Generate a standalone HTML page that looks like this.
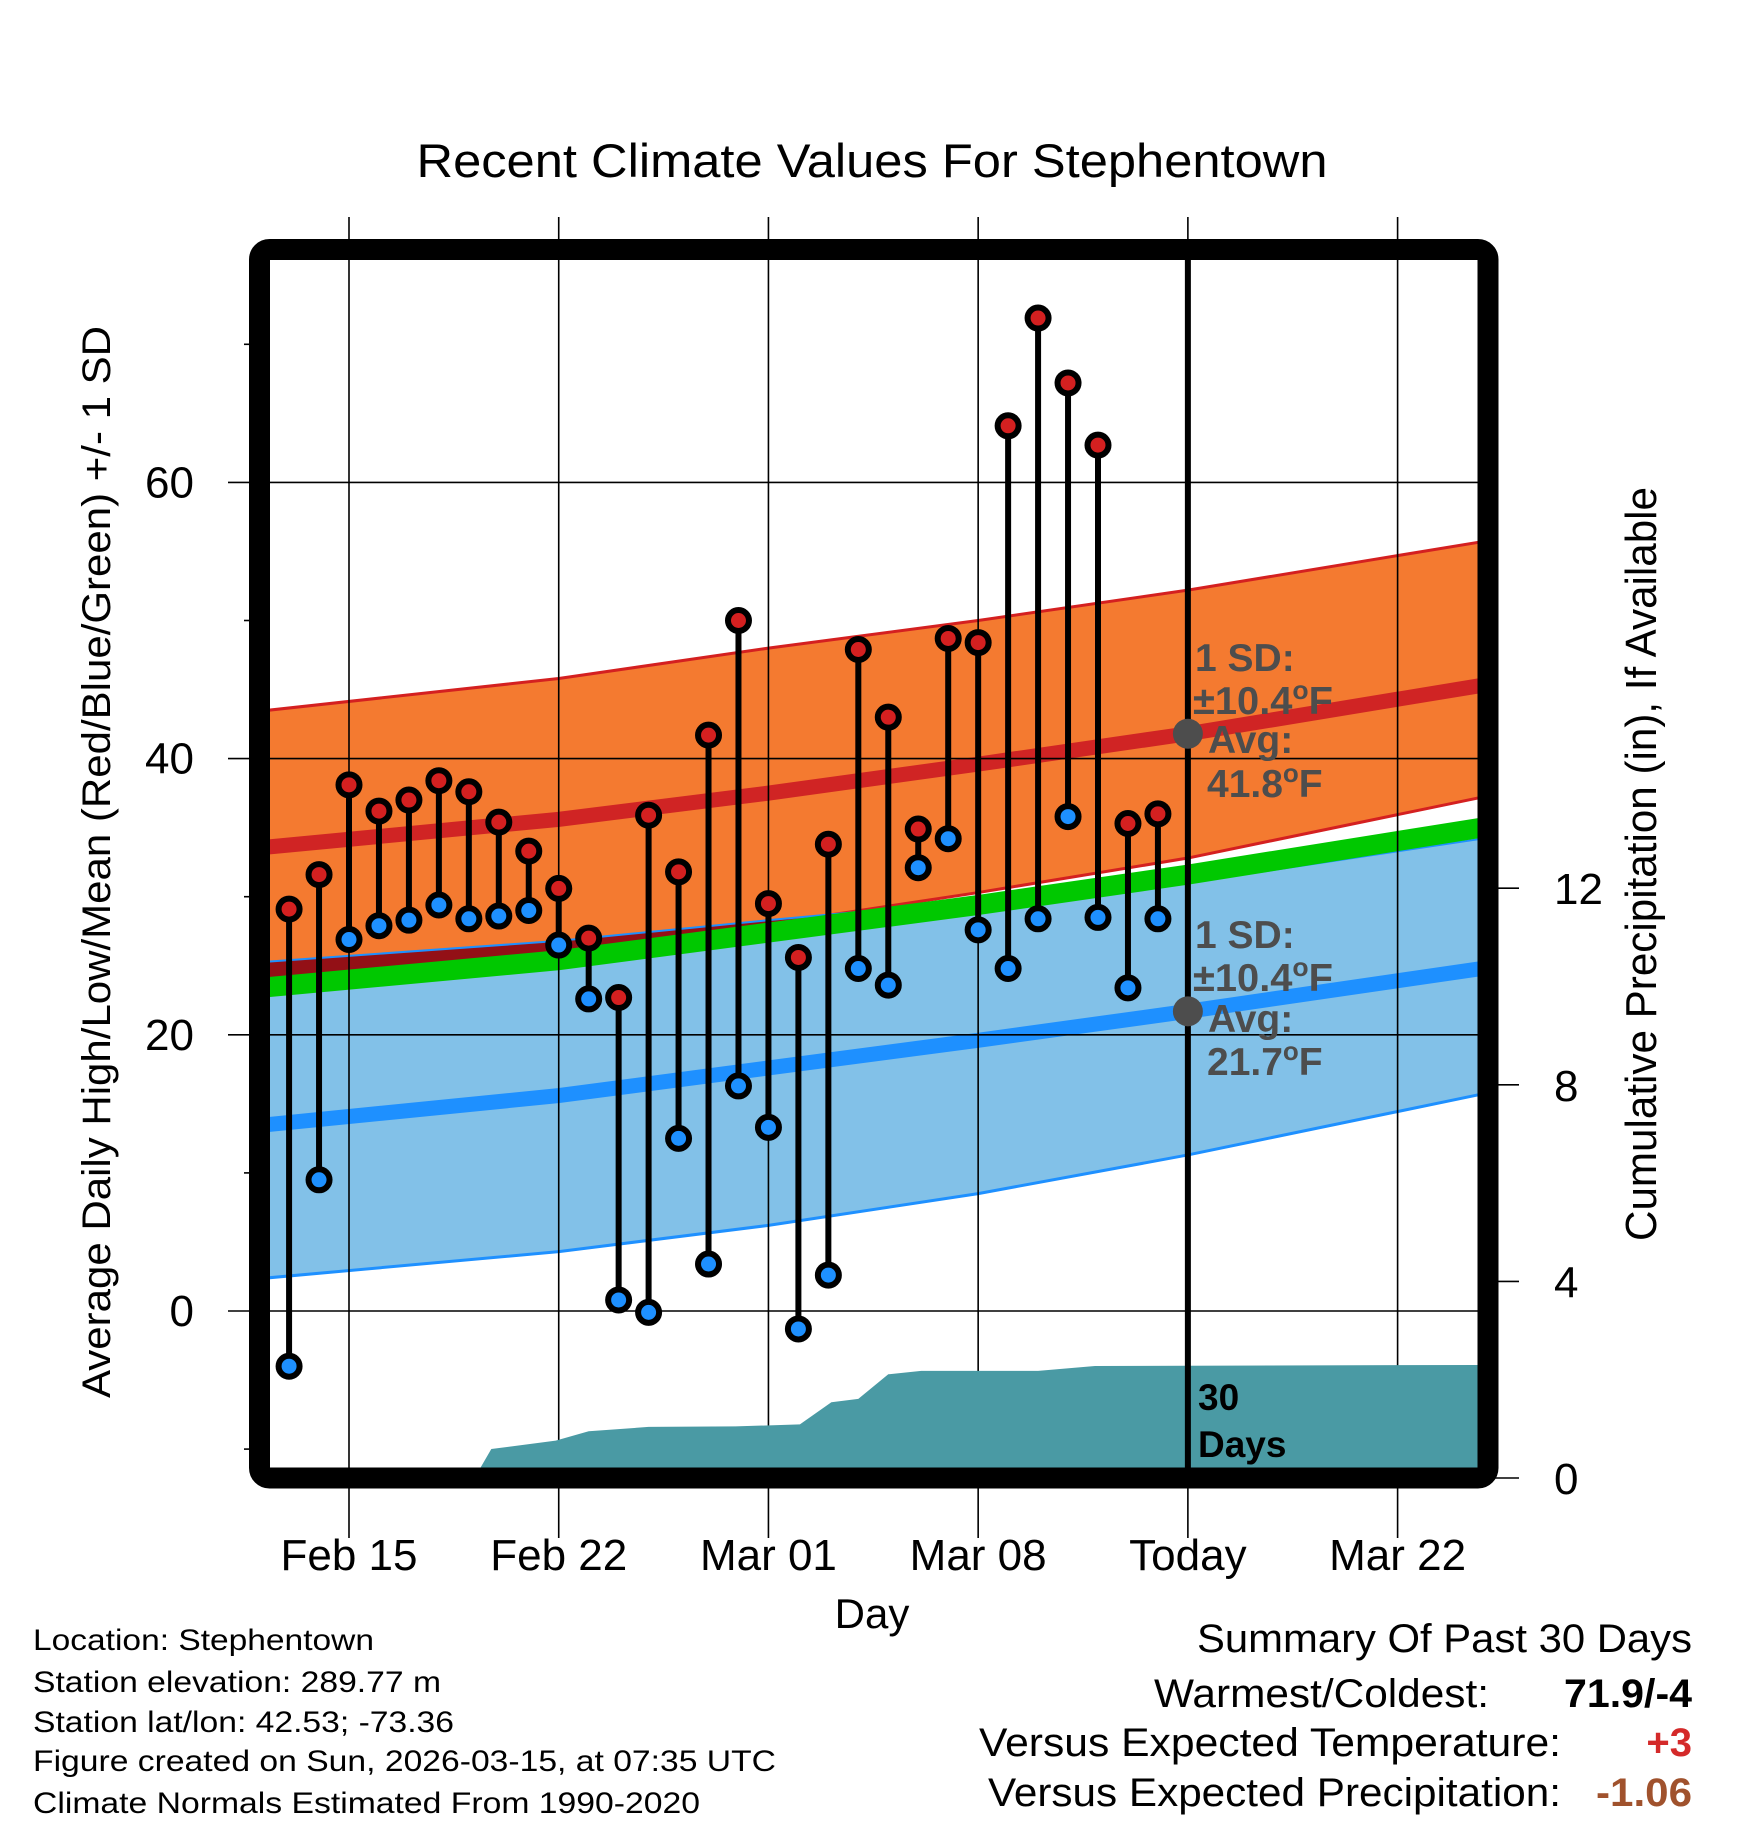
<!DOCTYPE html>
<html><head><meta charset="utf-8"><style>
html,body{margin:0;padding:0;background:#fff;}
svg{display:block;font-family:"Liberation Sans",Arial,sans-serif;}
</style></head><body>
<svg id="chart" width="1748" height="1828" viewBox="0 0 1748 1828" xmlns="http://www.w3.org/2000/svg">
<defs><clipPath id="plotclip"><rect x="270" y="260" width="1208" height="1208"/></clipPath></defs>
<text x="872" y="177" font-size="47" text-anchor="middle" textLength="911" lengthAdjust="spacingAndGlyphs">Recent Climate Values For Stephentown</text>
<g id="bands" clip-path="url(#plotclip)"></g>
<g id="grid"></g>
<g id="precip" clip-path="url(#plotclip)"></g>
<g id="annot"></g>
<g id="marks"></g>
<rect x="259.5" y="249.5" width="1228.5" height="1228.5" rx="10" fill="none" stroke="#000" stroke-width="21"/>
<g id="axes"></g>
<text transform="translate(110,862) rotate(-90)" font-size="40" text-anchor="middle" textLength="1072" lengthAdjust="spacingAndGlyphs">Average Daily High/Low/Mean (Red/Blue/Green) +/- 1 SD</text>
<text transform="translate(1656,864) rotate(-90)" font-size="44" text-anchor="middle" textLength="754" lengthAdjust="spacingAndGlyphs">Cumulative Precipitation (in), If Available</text>
<text x="872" y="1628" font-size="42" text-anchor="middle">Day</text>
<g font-size="30">
<text x="33" y="1650" textLength="341" lengthAdjust="spacingAndGlyphs">Location: Stephentown</text>
<text x="33" y="1692" textLength="408" lengthAdjust="spacingAndGlyphs">Station elevation: 289.77 m</text>
<text x="33" y="1732" textLength="421" lengthAdjust="spacingAndGlyphs">Station lat/lon: 42.53; -73.36</text>
<text x="33" y="1771" textLength="743" lengthAdjust="spacingAndGlyphs">Figure created on Sun, 2026-03-15, at 07:35 UTC</text>
<text x="33" y="1813" textLength="667" lengthAdjust="spacingAndGlyphs">Climate Normals Estimated From 1990-2020</text>
</g>
<g font-size="40">
<text x="1692" y="1652" text-anchor="end" textLength="495" lengthAdjust="spacingAndGlyphs">Summary Of Past 30 Days</text>
<text x="1154" y="1707" textLength="335" lengthAdjust="spacingAndGlyphs">Warmest/Coldest:</text>
<text x="1692" y="1707" text-anchor="end" font-weight="bold" textLength="128" lengthAdjust="spacingAndGlyphs">71.9/-4</text>
<text x="979" y="1756" textLength="582" lengthAdjust="spacingAndGlyphs">Versus Expected Temperature:</text>
<text x="1692" y="1756" text-anchor="end" font-weight="bold" fill="#d42a2a">+3</text>
<text x="988" y="1806" textLength="573" lengthAdjust="spacingAndGlyphs">Versus Expected Precipitation:</text>
<text x="1692" y="1806" text-anchor="end" font-weight="bold" fill="#a0522d" textLength="96" lengthAdjust="spacingAndGlyphs">-1.06</text>
</g>
</svg>
<script>
// ---- data ----
const dayOffsets = [-2,-1,0,1,2,3,4,5,6,7,8,9,10,11,12,13,14,15,16,17,18,19,20,21,22,23,24,25,26,27];
const highs = [29.1,31.6,38.1,36.2,37.0,38.4,37.6,35.4,33.3,30.6,27.0,22.7,35.9,31.8,41.7,50.0,29.5,25.6,33.8,47.9,43.0,34.9,48.7,48.4,64.1,71.9,67.2,62.7,35.3,36.0];
const lows = [-4.0,9.5,26.9,27.9,28.3,29.4,28.4,28.6,29.0,26.5,22.6,0.8,-0.1,12.5,3.4,16.3,13.3,-1.3,2.6,24.8,23.6,32.1,34.2,27.6,24.8,28.4,35.8,28.5,23.4,28.4];
const normDays = [-2.7,7,14,21,28,37.8];
const avgHigh = [33.6,35.6,37.5,39.6,41.8,45.3];
const highUpper = [43.5,45.8,48.0,50.0,52.2,55.7];
const highLower = [23.2,25.6,28.0,30.3,32.8,37.2];
const lowUpper = [25.3,26.8,28.3,29.7,31.0,34.2];
const avgLow = [13.5,15.6,17.6,19.6,21.7,24.8];
const lowLower = [2.4,4.3,6.2,8.5,11.3,15.7];
const avgMean = [23.45,25.4,27.4,29.4,31.6,35.0];
const precipDays = [4.0,4.75,6.9,8.0,10.0,12.9,15.05,16.1,17.0,18.0,19.1,23.0,24.9,37.8];
const precipVals = [-0.2,0.59,0.76,0.95,1.04,1.05,1.09,1.54,1.61,2.11,2.18,2.18,2.28,2.30];
const xTickLabels = ["Feb 15","Feb 22","Mar 01","Mar 08","Today","Mar 22"];
const xTickDays = [0,7,14,21,28,35];
const yTicks = [0,20,40,60];
const yMinor = [-10,10,30,50,70];
const y2Ticks = [0,4,8,12];
const todayDay = 28;
const sdText = "±10.4";
const highAvgText = "41.8";
const lowAvgText = "21.7";

// ---- scales ----
const x = d => 349 + 29.96*d;
const yT = t => 1311 - 13.81*t;
const yP = p => 1478 - 49.15*p;
const NS = "http://www.w3.org/2000/svg";
function mk(tag, attrs, parent){const e=document.createElementNS(NS,tag);for(const k in attrs)e.setAttribute(k,attrs[k]);parent.appendChild(e);return e;}
const line = arr => normDays.map((d,i)=>x(d)+","+yT(arr[i])).join(" ");
const band = (a,b) => normDays.map((d,i)=>x(d)+","+yT(a[i])).concat(normDays.map((d,i)=>x(d)+","+yT(b[i])).reverse()).join(" ");

const bands=document.getElementById('bands');
let e;
e=mk('polygon',{points:band(highUpper,highLower),fill:'#f47a30'},bands);


e=mk('polygon',{points:band(lowUpper,lowLower),fill:'#82c1e8'},bands);


const overlapLow = highLower.map((v,i)=>Math.min(v,lowUpper[i]));
e=mk('polygon',{points:band(lowUpper,overlapLow),fill:'#931016'},bands);


e=mk('polyline',{points:line(highUpper),fill:'none',stroke:'#d42020','stroke-width':3},bands);


e=mk('polyline',{points:line(highLower),fill:'none',stroke:'#d42020','stroke-width':3},bands);


e=mk('polyline',{points:line(lowUpper),fill:'none',stroke:'#1e90ff','stroke-width':2},bands);


e=mk('polyline',{points:line(lowLower),fill:'none',stroke:'#1e90ff','stroke-width':3},bands);


e=mk('polyline',{points:line(avgMean),fill:'none',stroke:'#00c800','stroke-width':20},bands);


e=mk('polyline',{points:line(avgHigh),fill:'none',stroke:'#d02424','stroke-width':15},bands);


e=mk('polyline',{points:line(avgLow),fill:'none',stroke:'#1e90ff','stroke-width':15},bands);



// grid
const grid=document.getElementById('grid');
xTickDays.forEach((d,i)=>{
  const g=mk('line',{x1:x(d),x2:x(d),y1:217,y2:1538,stroke:'#000','stroke-width':1.6},grid);
  
  
});
yTicks.forEach(t=>{
  const g=mk('line',{x1:228,x2:1478,y1:yT(t),y2:yT(t),stroke:'#000','stroke-width':1.6},grid);
  
  
});

// precip
const pg=document.getElementById('precip');
let pts=precipDays.map((d,i)=>x(d)+","+yP(precipVals[i]));
pts.push(x(precipDays[precipDays.length-1])+",1480");
pts.push(x(precipDays[0])+",1480");
e=mk('polygon',{points:pts.join(" "),fill:'#4a9aa4'},pg);



// today line + annotations
const an=document.getElementById('annot');
e=mk('line',{x1:x(todayDay),x2:x(todayDay),y1:255,y2:1470,stroke:'#000','stroke-width':6},an);


e=mk('circle',{cx:x(todayDay),cy:yT(avgHigh[4]),r:15,fill:'#4d4d4d'},an);


e=mk('circle',{cx:x(todayDay),cy:yT(avgLow[4]),r:15,fill:'#4d4d4d'},an);


function annText(xx,yy,str,deg,name,len){
  const t=mk('text',{x:xx,y:yy,'font-size':39,'font-weight':'bold',fill:'#4d4d4d'},an);
  if(len){t.setAttribute('textLength',len);t.setAttribute('lengthAdjust','spacingAndGlyphs');}
  
  
  t.appendChild(document.createTextNode(str));
  if(deg){const s=mk('tspan',{'font-size':26,dy:-15},t);s.textContent='o';const f=mk('tspan',{dy:15},t);f.textContent='F';}
}
annText(1195,671,"1 SD:",false,'high-sd-label');
annText(1193,714,sdText,true,'high-sd-value',140);
annText(1208,753,"Avg:",false,'high-avg-label');
annText(1207,797,highAvgText,true,'high-avg-value');
annText(1195,948,"1 SD:",false,'low-sd-label');
annText(1193,991,sdText,true,'low-sd-value',140);
annText(1208,1032,"Avg:",false,'low-avg-label');
annText(1207,1075,lowAvgText,true,'low-avg-value');
e=mk('text',{x:1198,y:1410,'font-size':37,'font-weight':'bold',fill:'#000'},an);


e.textContent='30';
e=mk('text',{x:1198,y:1457,'font-size':37,'font-weight':'bold',fill:'#000'},an);


e.textContent='Days';

// marks
const mg=document.getElementById('marks');
dayOffsets.forEach((d,i)=>{
  const s=mk('line',{x1:x(d),x2:x(d),y1:yT(highs[i]),y2:yT(lows[i]),stroke:'#000','stroke-width':6},mg);
  
  
});
dayOffsets.forEach((d,i)=>{
  const h=mk('circle',{cx:x(d),cy:yT(highs[i]),r:10.5,fill:'#d42020',stroke:'#000','stroke-width':6},mg);
  
  
  const l=mk('circle',{cx:x(d),cy:yT(lows[i]),r:10.5,fill:'#1e90ff',stroke:'#000','stroke-width':6},mg);
  
  
});

// axes
const ax=document.getElementById('axes');
yTicks.forEach(t=>{
  const lb=mk('text',{x:194,y:yT(t)+15,'font-size':44,'text-anchor':'end'},ax);
  
  
  lb.textContent=String(t);
});
yMinor.forEach(t=>{
  const m=mk('line',{x1:244,x2:252,y1:yT(t),y2:yT(t),stroke:'#000','stroke-width':1.6},ax);
  
  
});
y2Ticks.forEach(p=>{
  const m=mk('line',{x1:1495,x2:1519,y1:yP(p),y2:yP(p),stroke:'#000','stroke-width':1.6},ax);
  
  
  const lb=mk('text',{x:1554,y:yP(p)+16,'font-size':44},ax);
  
  
  lb.textContent=String(p);
});
xTickDays.forEach((d,i)=>{
  const lb=mk('text',{x:x(d),y:1570,'font-size':44,'text-anchor':'middle'},ax);
  
  
  lb.textContent=xTickLabels[i];
});
</script>
</body></html>
